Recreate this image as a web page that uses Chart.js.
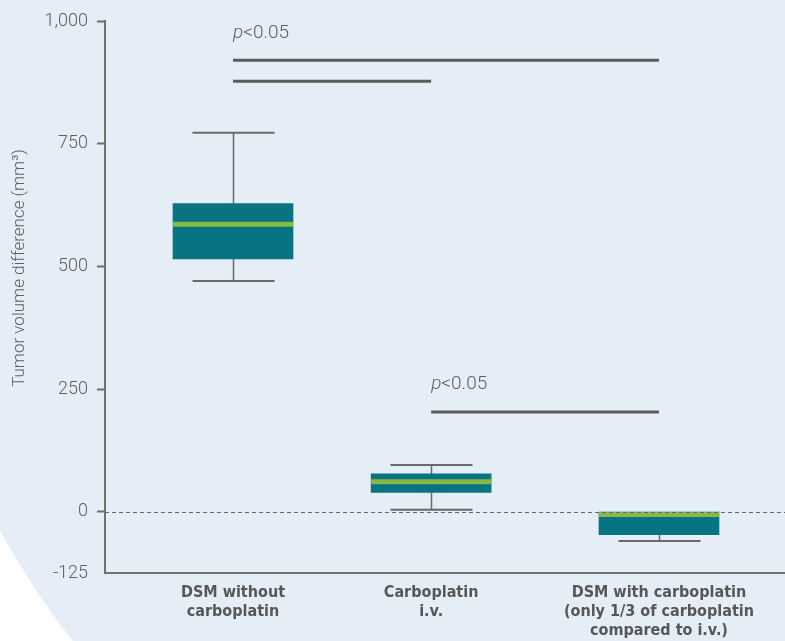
<!DOCTYPE html>
<html lang="en">
  <head>
    <meta charset="UTF-8" />
    <title>Tumor volume difference</title>
    <style>
      body {
        margin: 0;
        background: #ffffff;
      }
      .chart-container {
        width: 785px;
        height: 641px;
        position: relative;
      }
    </style>
  </head>
  <body>
    <div class="chart-container">
      <canvas id="boxChart"></canvas>
    </div>
    <script src="https://cdn.jsdelivr.net/npm/chart.js@4"></script>
    <script>
      const categories = [
        ["DSM without", "carboplatin"],
        ["Carboplatin", "i.v."],
        ["DSM with carboplatin", "(only 1/3 of carboplatin", "compared to i.v.)"],
      ];
      // group positions along the x axis (the groups are not evenly spaced)
      const catX = [1, 2, 3.15];
      const whiskerMin = [470, 4, -60];
      const q1 = [515, 39, -47];
      const median = [586, 61, -6];
      const q3 = [628, 77, -1];
      const whiskerMax = [772, 95, -1];
      const yTicks = [-125, 0, 250, 500, 750, 1000];
      const yTitle = "Tumor volume difference (mm³)";

      // significance bars: from group, to group, y value
      const sigBars = [
        { from: 0, to: 2, y: 920 },
        { from: 0, to: 1, y: 877 },
        { from: 1, to: 2, y: 203 },
      ];
      const sigLabels = [
        { at: 0, y: 965, text: "<0.05" },
        { at: 1, y: 250, text: "<0.05" },
      ];

      const boxColor = "#087382";
      const medianColor = "#86b846";
      const lineColor = "#5c5c5c";
      const axisColor = "#707070";
      const lightFont = "Roboto, 'Open Sans', sans-serif";

      const boxPlugin = {
        id: "boxExtras",
        beforeDraw(chart) {
          const ctx = chart.ctx;
          ctx.save();
          ctx.fillStyle = "#ffffff";
          ctx.fillRect(0, 0, chart.width, chart.height);
          ctx.fillStyle = "#e5edf7";
          ctx.beginPath();
          ctx.arc(702, 147, 800, 0, Math.PI * 2);
          ctx.fill();

          // y axis title, sits a little above the middle of the axis
          ctx.translate(20, 268);
          ctx.rotate(-Math.PI / 2);
          ctx.fillStyle = "#606060";
          ctx.font = "300 17px " + lightFont;
          ctx.textAlign = "center";
          ctx.textBaseline = "middle";
          ctx.fillText(yTitle, 0, 0);
          ctx.restore();
        },
        beforeDatasetsDraw(chart) {
          const ctx = chart.ctx;
          const xs = chart.scales.x;
          const ys = chart.scales.y;
          ctx.save();
          ctx.strokeStyle = "#6a6a6a";
          catX.forEach((v, i) => {
            const cx = Math.round(xs.getPixelForValue(v)) + 0.5;
            ctx.lineWidth = 1.5;
            ctx.beginPath();
            ctx.moveTo(cx, ys.getPixelForValue(whiskerMax[i]));
            ctx.lineTo(cx, ys.getPixelForValue(q3[i]));
            ctx.moveTo(cx, ys.getPixelForValue(q1[i]));
            ctx.lineTo(cx, ys.getPixelForValue(whiskerMin[i]));
            ctx.stroke();
            if (whiskerMax[i] === q3[i]) return;
            ctx.lineWidth = 2;
            ctx.beginPath();
            [whiskerMin[i], whiskerMax[i]].forEach((w) => {
              const py = ys.getPixelForValue(w);
              ctx.moveTo(cx - 41, py);
              ctx.lineTo(cx + 41, py);
            });
            ctx.stroke();
          });
          // a whisker that ends at the box only gets its lower cap
          ctx.lineWidth = 2;
          catX.forEach((v, i) => {
            if (whiskerMax[i] !== q3[i]) return;
            const cx = Math.round(xs.getPixelForValue(v)) + 0.5;
            const py = ys.getPixelForValue(whiskerMin[i]);
            ctx.beginPath();
            ctx.moveTo(cx - 41, py);
            ctx.lineTo(cx + 41, py);
            ctx.stroke();
          });
          ctx.restore();
        },
        afterDatasetsDraw(chart) {
          const ctx = chart.ctx;
          const xs = chart.scales.x;
          const ys = chart.scales.y;
          const area = chart.chartArea;
          ctx.save();

          // medians
          ctx.strokeStyle = medianColor;
          ctx.lineWidth = 5;
          catX.forEach((v, i) => {
            const cx = xs.getPixelForValue(v);
            const py = ys.getPixelForValue(median[i]);
            ctx.beginPath();
            ctx.moveTo(cx - 60, py);
            ctx.lineTo(cx + 60, py);
            ctx.stroke();
          });

          // dashed zero line
          const y0 = Math.round(ys.getPixelForValue(0)) + 0.5;
          ctx.strokeStyle = "#666666";
          ctx.lineWidth = 1;
          ctx.setLineDash([4, 3]);
          ctx.beginPath();
          ctx.moveTo(area.left, y0);
          ctx.lineTo(area.right, y0);
          ctx.stroke();
          ctx.setLineDash([]);

          // significance bars
          ctx.strokeStyle = lineColor;
          ctx.lineWidth = 3;
          sigBars.forEach((b) => {
            const py = ys.getPixelForValue(b.y);
            ctx.beginPath();
            ctx.moveTo(xs.getPixelForValue(catX[b.from]), py);
            ctx.lineTo(xs.getPixelForValue(catX[b.to]), py);
            ctx.stroke();
          });

          ctx.fillStyle = "#5e5e5e";
          ctx.textBaseline = "alphabetic";
          ctx.textAlign = "left";
          sigLabels.forEach((l) => {
            const px = xs.getPixelForValue(catX[l.at]);
            const py = ys.getPixelForValue(l.y);
            ctx.font = "italic 300 19px " + lightFont;
            ctx.fillText("p", px, py);
            const w = ctx.measureText("p").width;
            ctx.font = "300 19px " + lightFont;
            ctx.fillText(l.text, px + w, py);
          });
          ctx.restore();
        },
      };

      const chart = new Chart(document.getElementById("boxChart"), {
        type: "bar",
        data: {
          datasets: [
            {
              data: catX.map((x, i) => ({ x: x, y: [q1[i], q3[i]] })),
              backgroundColor: boxColor,
              borderWidth: 0,
              barThickness: 120,
              grouped: false,
            },
          ],
        },
        options: {
          responsive: true,
          maintainAspectRatio: false,
          animation: false,
          layout: { padding: { top: 21, right: 0, left: 0, bottom: 0 } },
          plugins: {
            legend: { display: false },
            tooltip: { enabled: false },
          },
          scales: {
            x: {
              type: "linear",
              min: 0.354,
              max: 3.786,
              offset: false,
              afterBuildTicks: (scale) => {
                scale.ticks = catX.map((v) => ({ value: v }));
              },
              afterFit: (scale) => {
                scale.height = 68;
              },
              ticks: {
                autoSkip: false,
                maxRotation: 0,
                padding: 10,
                color: "#575757",
                font: {
                  family: "'DejaVu Sans Condensed', 'DejaVu Sans', sans-serif",
                  weight: "bold",
                  size: 16,
                  lineHeight: "19px",
                },
                callback: (value) => {
                  const i = catX.indexOf(value);
                  return i >= 0 ? categories[i] : "";
                },
              },
              grid: { display: false, drawTicks: false },
              border: { display: true, color: axisColor, width: 2 },
            },
            y: {
              min: -125,
              max: 1000,
              afterBuildTicks: (scale) => {
                scale.ticks = yTicks.map((v) => ({ value: v }));
              },
              afterFit: (scale) => {
                scale.width = 105;
              },
              ticks: {
                padding: 9,
                color: "#606060",
                font: { family: lightFont, weight: 300, size: 18 },
                callback: (v) => v.toLocaleString("en-US"),
              },
              grid: {
                drawOnChartArea: false,
                tickLength: 8,
                tickWidth: 2,
                tickColor: (c) => (c.tick && c.tick.value === -125 ? "rgba(0,0,0,0)" : axisColor),
              },
              border: { display: true, color: axisColor, width: 2 },
            },
          },
        },
        plugins: [boxPlugin],
      });
    </script>
  </body>
</html>
